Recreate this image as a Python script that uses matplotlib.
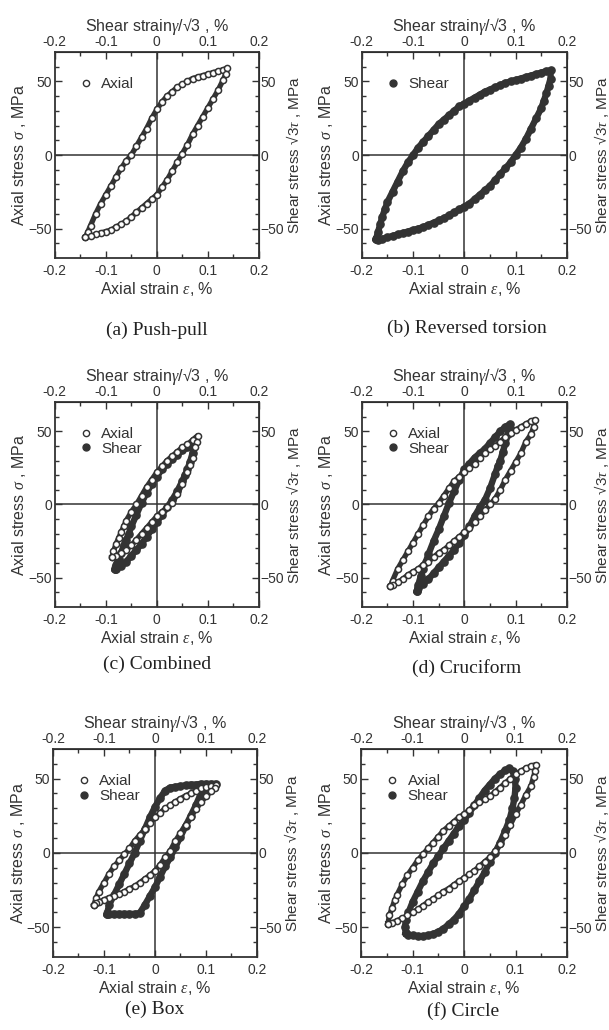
import matplotlib.pyplot as plt
from matplotlib.lines import Line2D
from matplotlib.ticker import FixedLocator

plt.rcParams['font.family'] = ['Liberation Sans', 'DejaVu Sans']
plt.rcParams['mathtext.fontset'] = 'custom'
plt.rcParams['mathtext.it'] = 'Liberation Serif:italic'
plt.rcParams['mathtext.rm'] = 'Liberation Sans'

INK = '#333333'

# tick positions
strain_ticks = [-0.2, -0.1, 0.0, 0.1, 0.2]
strain_minor = [-0.15, -0.05, 0.05, 0.15]
stress_ticks = [-50, 0, 50]
stress_minor = [-60, -40, -30, -20, -10, 10, 20, 30, 40, 60]

# ---- loops: strain (%), stress (MPa), going round each loop ----
# (a) push-pull, axial
a_axial_x = [-0.14, -0.135, -0.13, -0.12, -0.11, -0.10, -0.09, -0.08, -0.07, -0.06, -0.05, -0.04, -0.03,
             -0.02, -0.01, 0.0, 0.01, 0.02, 0.03, 0.04, 0.05, 0.06, 0.07, 0.08, 0.09, 0.10, 0.11, 0.12,
             0.13, 0.138,
             0.135, 0.13, 0.12, 0.11, 0.10, 0.09, 0.08, 0.07, 0.06, 0.05, 0.04, 0.03, 0.02, 0.01, 0.0,
             -0.01, -0.02, -0.03, -0.04, -0.05, -0.06, -0.07, -0.08, -0.09, -0.10, -0.11, -0.12, -0.13, -0.14]
a_axial_y = [-56, -52, -48, -40, -33, -27, -21, -15, -9, -4, 0, 6, 12,
             18, 25, 31, 36, 40, 43, 46, 48, 50, 52, 53, 54, 55, 56, 57,
             58, 59,
             55, 51, 44, 38, 32, 26, 20, 14, 7, 1, -5, -11, -17, -22, -27,
             -30, -33, -36, -39, -42, -45, -47, -49, -51, -52, -53, -54, -55, -56]

# (b) reversed torsion, shear
b_shear_x = [-0.172, -0.168, -0.164, -0.16, -0.155, -0.15, -0.14, -0.13, -0.12, -0.11, -0.10, -0.09, -0.08,
             -0.07, -0.06, -0.05, -0.04, -0.03, -0.02, -0.01, 0.0, 0.01, 0.02, 0.03, 0.04, 0.05, 0.06,
             0.07, 0.08, 0.09, 0.10, 0.11, 0.12, 0.13, 0.14, 0.15, 0.16, 0.168,
             0.168, 0.164, 0.16, 0.155, 0.15, 0.14, 0.13, 0.12, 0.11, 0.10, 0.09, 0.08, 0.07, 0.06,
             0.05, 0.04, 0.03, 0.02, 0.01, 0.0, -0.01, -0.02, -0.03, -0.04, -0.05, -0.06, -0.07, -0.08,
             -0.09, -0.10, -0.11, -0.12, -0.13, -0.14, -0.15, -0.16, -0.168, -0.172]
b_shear_y = [-57, -52, -47, -42, -37, -32, -25, -18, -11, -5, 0, 5, 9,
             13, 17, 21, 24, 27, 30, 33, 35, 37, 39, 41, 43, 44.5, 46,
             47.5, 49, 50, 51, 52, 53, 54, 55, 56, 57, 57.5,
             52, 47, 42, 37, 32, 25, 18, 11, 5, 0, -5, -9, -13, -17,
             -21, -24, -27, -30, -33, -35, -37, -39, -41, -43, -44.5, -46, -47.5, -49,
             -50, -51, -52, -53, -54, -55, -56, -57, -57.5, -57]

# (c) combined
c_axial_x = [-0.088, -0.085, -0.08, -0.075, -0.07, -0.065, -0.06, -0.05, -0.04, -0.03, -0.02, -0.01, 0.0,
             0.01, 0.02, 0.03, 0.04, 0.05, 0.06, 0.07, 0.08,
             0.078, 0.075, 0.07, 0.065, 0.06, 0.05, 0.04, 0.03, 0.02, 0.01, 0.0, -0.01, -0.02, -0.03,
             -0.04, -0.05, -0.06, -0.07, -0.08, -0.088]
c_axial_y = [-36, -32, -27, -23, -19, -15, -11, -5, 0, 6, 12, 17, 22,
             26, 30, 33, 36, 39, 41, 44, 47,
             43, 39, 32, 27, 22, 14, 7, 1, -2, -5, -8, -12, -16, -20,
             -24, -28, -31, -33, -35, -36]
c_shear_x = [-0.082, -0.08, -0.075, -0.07, -0.065, -0.06, -0.055, -0.05, -0.04, -0.03, -0.02, -0.01, 0.0,
             0.01, 0.02, 0.03, 0.04, 0.05, 0.06, 0.07, 0.075,
             0.07, 0.065, 0.06, 0.055, 0.05, 0.04, 0.03, 0.02, 0.01, 0.0, -0.01, -0.02, -0.03, -0.04,
             -0.05, -0.06, -0.07, -0.08, -0.082]
c_shear_y = [-44, -41, -37, -33, -28, -24, -20, -15, -7, 1, 8, 14, 19,
             24, 28, 31, 34, 37, 39, 42, 44,
             35, 29, 24, 20, 16, 9, 3, -2, -7, -12, -17, -22, -27, -31,
             -35, -39, -42, -44, -44]

# (d) cruciform
d_axial_x = [-0.144, -0.14, -0.13, -0.12, -0.11, -0.10, -0.09, -0.08, -0.07, -0.06, -0.05, -0.04, -0.03,
             -0.02, -0.01, 0.0, 0.01, 0.02, 0.03, 0.04, 0.05, 0.06, 0.07, 0.08, 0.09, 0.10, 0.11, 0.12,
             0.13, 0.138,
             0.135, 0.13, 0.12, 0.11, 0.10, 0.09, 0.08, 0.07, 0.06, 0.05, 0.04, 0.03, 0.02, 0.01, 0.0,
             -0.01, -0.02, -0.03, -0.04, -0.05, -0.06, -0.07, -0.08, -0.09, -0.10, -0.11, -0.12, -0.13,
             -0.14, -0.144]
d_axial_y = [-56, -52, -44, -38, -32, -26, -20, -14, -8, -3, 1, 6, 11,
             16, 19, 22, 25, 28, 32, 35, 38, 40, 43, 46, 49, 51, 53, 55,
             57, 58,
             53, 48, 43, 35, 29, 23, 17, 10, 4, 0, -4, -8, -12, -16, -19,
             -22, -25, -28, -31, -33, -36, -39, -41, -44, -46, -48, -51, -53,
             -55, -56]
d_shear_x = [-0.092, -0.09, -0.085, -0.08, -0.075, -0.07, -0.06, -0.05, -0.04, -0.03, -0.02, -0.01, 0.0,
             0.01, 0.02, 0.03, 0.04, 0.05, 0.06, 0.07, 0.08, 0.089,
             0.088, 0.085, 0.08, 0.075, 0.07, 0.065, 0.06, 0.05, 0.04, 0.03, 0.02, 0.01, 0.0, -0.01,
             -0.02, -0.03, -0.04, -0.05, -0.06, -0.07, -0.08, -0.09, -0.092]
d_shear_y = [-59, -55, -49, -44, -39, -34, -25, -17, -8, 1, 9, 17, 24,
             28, 32, 35, 38, 42, 46, 50, 53, 55,
             52, 48, 42, 36, 30, 26, 21, 11, 3, -2, -8, -15, -21, -26,
             -31, -35, -39, -43, -47, -51, -54, -57, -59]

# (e) box
e_axial_x = [-0.12, -0.115, -0.11, -0.10, -0.09, -0.08, -0.07, -0.06, -0.05, -0.04, -0.03, -0.02, -0.01,
             0.0, 0.01, 0.02, 0.03, 0.04, 0.05, 0.06, 0.07, 0.08, 0.09, 0.10, 0.11, 0.12,
             0.118, 0.11, 0.10, 0.09, 0.08, 0.07, 0.06, 0.05, 0.04, 0.03, 0.02, 0.01, 0.0, -0.01, -0.02,
             -0.03, -0.04, -0.05, -0.06, -0.07, -0.08, -0.09, -0.10, -0.11, -0.115, -0.12]
e_axial_y = [-35, -30, -26, -20, -14, -9, -5, -1, 3, 8, 12, 16, 20,
             24, 27, 30, 32, 34.5, 36.5, 38.5, 40, 42, 43.5, 44.5, 45, 45.5,
             44, 41.5, 38, 34, 29.5, 24, 19, 13.5, 8, 1.5, -3, -8, -12, -15, -17.5,
             -20, -22.5, -24, -26, -27.5, -29, -30, -31.5, -33, -34, -35]
e_shear_x = [-0.094, -0.09, -0.08, -0.07, -0.06, -0.05, -0.04, -0.03, -0.02, -0.01, 0.0, 0.01, 0.02,
             0.03, 0.04, 0.05, 0.06, 0.07, 0.08, 0.09, 0.10, 0.11, 0.12,
             0.115, 0.11, 0.10, 0.09, 0.08, 0.07, 0.06, 0.05, 0.04, 0.03, 0.02, 0.01, 0.0, -0.01,
             -0.02, -0.03, -0.04, -0.05, -0.06, -0.07, -0.08, -0.09, -0.094]
e_shear_y = [-41, -35, -28, -21, -14, -7, 0, 8, 16, 24, 31, 37, 42,
             44, 44.5, 45, 45.5, 46, 46, 46.5, 46.5, 46.5, 46.5,
             46, 45.5, 44, 40, 32, 25, 18, 11, 4, -3, -9, -16, -23, -29,
             -35, -40.5, -41, -41, -41, -41, -41, -41, -41]

# (f) circle
f_axial_x = [-0.148, -0.145, -0.14, -0.135, -0.13, -0.12, -0.11, -0.10, -0.09, -0.08, -0.07, -0.06, -0.05,
             -0.04, -0.03, -0.02, -0.01, 0.0, 0.01, 0.02, 0.03, 0.04, 0.05, 0.06, 0.07, 0.08, 0.09, 0.10,
             0.11, 0.12, 0.13, 0.14,
             0.138, 0.135, 0.13, 0.12, 0.11, 0.10, 0.09, 0.08, 0.07, 0.06, 0.05, 0.04, 0.03, 0.02, 0.01,
             0.0, -0.01, -0.02, -0.03, -0.04, -0.05, -0.06, -0.07, -0.08, -0.09, -0.10, -0.11, -0.12,
             -0.13, -0.14, -0.148]
f_axial_y = [-47.5, -42, -37, -32, -28, -21, -15, -10, -5, -1, 3, 7, 11,
             15, 18, 21, 24, 26, 29, 32, 34, 36, 38, 41, 44, 47, 50, 53,
             55, 57, 58.5, 59.5,
             55, 51, 45, 39, 32, 26, 19, 12, 6, 1, -3, -6, -9, -12, -14.5,
             -17, -19, -21.5, -24, -26, -28.5, -31, -33, -35.5, -38, -40, -42, -44,
             -45.5, -47, -47.5]
f_shear_x = [-0.113, -0.115, -0.113, -0.108, -0.10, -0.09, -0.08, -0.07, -0.06, -0.05, -0.04, -0.03, -0.02,
             -0.01, 0.0, 0.01, 0.02, 0.03, 0.04, 0.05, 0.06, 0.07, 0.08, 0.088,
             0.095, 0.099, 0.10, 0.098, 0.094, 0.088, 0.08, 0.07, 0.06, 0.05, 0.04, 0.03, 0.02, 0.01,
             0.0, -0.01, -0.02, -0.03, -0.04, -0.05, -0.06, -0.07, -0.08, -0.09, -0.10, -0.108, -0.113]
f_shear_y = [-54, -50, -45, -40, -33, -26, -19, -13, -7, -2, 3, 8, 13,
             18, 22, 27, 32, 37, 42, 46, 50, 53, 55.5, 57,
             55, 50, 44, 37, 30, 22, 15, 7, 0, -6, -13, -19, -25, -31,
             -36, -41, -45, -48, -51, -53, -54.5, -55.5, -56, -56, -55.5, -55, -54]

panels = [
    ("(a) Push-pull", [("Axial", a_axial_x, a_axial_y)]),
    ("(b) Reversed torsion", [("Shear", b_shear_x, b_shear_y)]),
    ("(c) Combined", [("Shear", c_shear_x, c_shear_y), ("Axial", c_axial_x, c_axial_y)]),
    ("(d) Cruciform", [("Shear", d_shear_x, d_shear_y), ("Axial", d_axial_x, d_axial_y)]),
    ("(e) Box", [("Shear", e_shear_x, e_shear_y), ("Axial", e_axial_x, e_axial_y)]),
    ("(f) Circle", [("Shear", f_shear_x, f_shear_y), ("Axial", f_axial_x, f_axial_y)]),
]

# axes boxes in figure fractions (left, bottom, width, height)
boxes = [
    [0.090, 0.7495, 0.335, 0.200], [0.594, 0.7495, 0.337, 0.200],
    [0.090, 0.4107, 0.335, 0.199], [0.594, 0.4107, 0.337, 0.199],
    [0.087, 0.0709, 0.335, 0.202], [0.593, 0.0709, 0.338, 0.202],
]
captions_xy = [(0.258, 0.679), (0.767, 0.681), (0.258, 0.355), (0.767, 0.351), (0.254, 0.020), (0.760, 0.018)]


def style_ticks(axis_obj, **kw):
    axis_obj.tick_params(which='both', direction='in', colors=INK, labelsize=10, width=1.0, **kw)
    axis_obj.tick_params(which='major', length=5)
    axis_obj.tick_params(which='minor', length=3)


def fmt_strain(v, p):
    s = f"{v:.1f}"
    return "0" if s in ("0.0", "-0.0") else s


fig = plt.figure(figsize=(6.09, 10.30), dpi=100)

for (caption, loops), box, cxy in zip(panels, boxes, captions_xy):
    ax = fig.add_axes(box)
    ax.set_xlim(-0.2, 0.2)
    ax.set_ylim(-70, 70)
    ax.axhline(0, color=INK, lw=1.1, zorder=1)
    ax.axvline(0, color=INK, lw=1.1, zorder=1)

    for kind, xs, ys in loops:
        if kind == "Shear":
            ax.plot(xs, ys, '-o', color=INK, lw=4.6, ms=5.2, mfc=INK, mec=INK,
                    solid_joinstyle='round', zorder=3)
        else:
            ax.plot(xs, ys, '-', color=INK, lw=3.8, solid_joinstyle='round', zorder=4)
            ax.plot(xs, ys, 'o', ms=4.4, mfc='white', mec=INK, mew=1.1, zorder=5)

    handles = []
    for kind in ["Axial", "Shear"]:
        if any(k == kind for k, _, _ in loops):
            if kind == "Axial":
                handles.append(Line2D([], [], ls='none', marker='o', ms=4.5, mfc='white', mec=INK,
                                      mew=1.0, label=kind))
            else:
                handles.append(Line2D([], [], ls='none', marker='o', ms=5, mfc=INK, mec=INK, label=kind))
    ax.legend(handles=handles, loc='upper left', bbox_to_anchor=(0.07, 0.93), frameon=False,
              fontsize=11, handlelength=0.8, handletextpad=0.6, labelspacing=0.05, borderpad=0.2,
              labelcolor=INK)

    ax.xaxis.set_major_locator(FixedLocator(strain_ticks))
    ax.xaxis.set_minor_locator(FixedLocator(strain_minor))
    ax.yaxis.set_major_locator(FixedLocator(stress_ticks))
    ax.yaxis.set_minor_locator(FixedLocator(stress_minor))
    style_ticks(ax)
    ax.tick_params(axis='x', pad=4)
    ax.tick_params(axis='y', pad=2)
    ax.xaxis.set_major_formatter(fmt_strain)
    for s in ax.spines.values():
        s.set_color(INK)
        s.set_linewidth(1.3)

    ax.set_xlabel(r"Axial strain $\varepsilon$, %", fontsize=11.5, color=INK, labelpad=2)
    ax.set_ylabel(r"Axial stress $\sigma$ , MPa", fontsize=11.5, color=INK, labelpad=0)

    top = ax.secondary_xaxis('top')
    top.xaxis.set_major_locator(FixedLocator(strain_ticks))
    top.xaxis.set_minor_locator(FixedLocator(strain_minor))
    top.xaxis.set_major_formatter(fmt_strain)
    style_ticks(top, pad=2)
    top.set_xlabel("Shear strain$\\gamma$/√3 , %", fontsize=11.5, color=INK, labelpad=3)

    right = ax.secondary_yaxis('right')
    right.yaxis.set_major_locator(FixedLocator(stress_ticks))
    right.yaxis.set_minor_locator(FixedLocator(stress_minor))
    style_ticks(right, pad=1)
    right.set_ylabel("Shear stress √3$\\tau$ , MPa", fontsize=11, color=INK, labelpad=0)

    fig.text(cxy[0], cxy[1], caption, ha='center', va='center', fontsize=14,
             family='Liberation Serif', color='#222222')

fig.savefig("out.png", dpi=100, facecolor='white')
